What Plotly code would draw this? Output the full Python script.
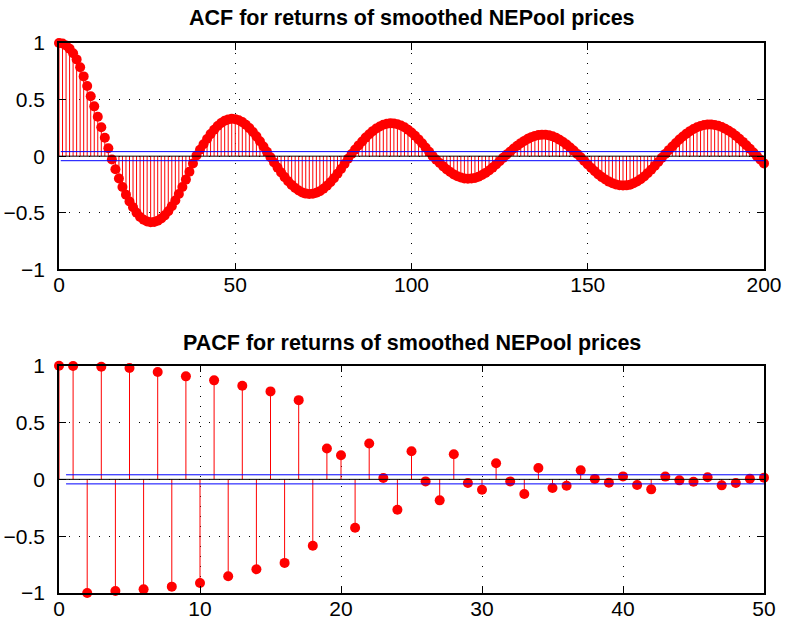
import plotly.graph_objects as go

# Sample autocorrelation of returns, lags 0..200
acf_lags = list(range(201))
acf_vals = [
    1.000, 0.995, 0.978, 0.950, 0.910, 0.855, 0.785, 0.705, 0.620, 0.530,
    0.440, 0.348, 0.255, 0.162, 0.070, -0.030, -0.115, -0.197, -0.272, -0.340,
    -0.400, -0.452, -0.500, -0.538, -0.562, -0.578, -0.584, -0.582, -0.571, -0.551,
    -0.523, -0.487, -0.443, -0.392, -0.335, -0.273, -0.207, -0.137, -0.065, 0.006,
    0.056, 0.105, 0.152, 0.195, 0.233, 0.266, 0.293, 0.313, 0.325, 0.330,
    0.327, 0.317, 0.301, 0.277, 0.248, 0.214, 0.175, 0.132, 0.086, 0.039,
    -0.009, -0.056, -0.101, -0.144, -0.185, -0.222, -0.254, -0.282, -0.304, -0.321,
    -0.331, -0.335, -0.332, -0.324, -0.309, -0.288, -0.261, -0.230, -0.195, -0.155,
    -0.113, -0.069, -0.023, 0.019, 0.058, 0.095, 0.130, 0.164, 0.194, 0.221,
    0.244, 0.262, 0.277, 0.286, 0.290, 0.289, 0.282, 0.271, 0.255, 0.234,
    0.209, 0.180, 0.148, 0.114, 0.077, 0.039, 0.000, -0.031, -0.061, -0.090,
    -0.117, -0.140, -0.161, -0.177, -0.189, -0.197, -0.200, -0.198, -0.192, -0.181,
    -0.166, -0.148, -0.126, -0.101, -0.074, -0.045, -0.015, 0.014, 0.041, 0.067,
    0.092, 0.115, 0.135, 0.153, 0.168, 0.179, 0.186, 0.190, 0.189, 0.184,
    0.175, 0.162, 0.145, 0.125, 0.102, 0.076, 0.049, 0.020, -0.010, -0.042,
    -0.074, -0.105, -0.134, -0.161, -0.185, -0.206, -0.225, -0.239, -0.250, -0.257,
    -0.260, -0.258, -0.252, -0.240, -0.224, -0.203, -0.179, -0.150, -0.119, -0.086,
    -0.051, -0.015, 0.020, 0.053, 0.086, 0.117, 0.147, 0.174, 0.199, 0.221,
    0.240, 0.256, 0.267, 0.275, 0.279, 0.280, 0.276, 0.268, 0.257, 0.242,
    0.225, 0.204, 0.180, 0.154, 0.126, 0.096, 0.065, 0.033, 0.000, -0.032,
    -0.064,
]

# Sample partial autocorrelation, lags 0..50
pacf_lags = list(range(51))
pacf_vals = [
    1.000, 0.997, -1.000, 0.991, -0.982, 0.979, -0.968, 0.944, -0.944, 0.906,
    -0.912, 0.871, -0.853, 0.824, -0.791, 0.774, -0.735, 0.697, -0.585, 0.271,
    0.212, -0.426, 0.315, 0.012, -0.268, 0.247, -0.018, -0.185, 0.221, -0.032,
    -0.091, 0.141, -0.018, -0.129, 0.100, -0.076, -0.056, 0.079, 0.004, -0.029,
    0.026, -0.050, -0.088, 0.024, -0.009, -0.021, 0.018, -0.053, -0.032, 0.006,
    0.015,
]

# Approximate 95% confidence bound
conf_bound = 0.04
conf_start = 0.5

acf_title = "ACF for returns of smoothed NEPool prices"
pacf_title = "PACF for returns of smoothed NEPool prices"
y_ticks = [-1, -0.5, 0, 0.5, 1]
acf_xticks = [0, 50, 100, 150, 200]
pacf_xticks = [0, 10, 20, 30, 40, 50]

FONT = "Liberation Sans, Arial, Helvetica, sans-serif"


def stem_traces(lags, vals, xa, ya):
    sx, sy = [], []
    for k, v in zip(lags, vals):
        sx += [k, k, None]
        sy += [0, v, None]
    common = dict(xaxis=xa, yaxis=ya, hoverinfo="skip", showlegend=False)
    return [
        go.Scatter(x=sx, y=sy, mode="lines",
                   line=dict(color="red", width=1), **common),
        go.Scatter(x=lags, y=vals, mode="markers", cliponaxis=False,
                   marker=dict(color="red", size=10, line=dict(width=0)),
                   **common),
        go.Scatter(x=[lags[0], lags[-1]], y=[0, 0], mode="lines",
                   line=dict(color="black", width=1), **common),
        go.Scatter(x=[conf_start, lags[-1]], y=[conf_bound, conf_bound],
                   mode="lines", line=dict(color="blue", width=1), **common),
        go.Scatter(x=[conf_start, lags[-1]], y=[-conf_bound, -conf_bound],
                   mode="lines", line=dict(color="blue", width=1), **common),
    ]


fig = go.Figure()
for t in stem_traces(acf_lags, acf_vals, "x", "y"):
    fig.add_trace(t)
for t in stem_traces(pacf_lags, pacf_vals, "x2", "y2"):
    fig.add_trace(t)

axis_style = dict(
    showline=True, linecolor="black", linewidth=1.5, mirror="ticks",
    ticks="inside", ticklen=7, tickwidth=1, tickcolor="black",
    showgrid=True, gridcolor="black", gridwidth=1, griddash="1px,9px",
    zeroline=False, automargin=False,
    tickfont=dict(family=FONT, size=21, color="black"),
)

fig.update_layout(
    template="none",
    width=785, height=626,
    margin=dict(l=59, r=21, t=43, b=33, pad=0),
    paper_bgcolor="white", plot_bgcolor="white",
    showlegend=False,
    xaxis=dict(domain=[0, 1], range=[0, 200], tickvals=acf_xticks,
               anchor="y", ticklabelstandoff=-4, **axis_style),
    yaxis=dict(domain=[0.5885, 1], range=[-1, 1], tickvals=y_ticks,
               anchor="x", ticklabelstandoff=8, **axis_style),
    xaxis2=dict(domain=[0, 1], range=[0, 50], tickvals=pacf_xticks,
                anchor="y2", ticklabelstandoff=-4, **axis_style),
    yaxis2=dict(domain=[0, 0.4133], range=[-1, 1], tickvals=y_ticks,
                anchor="x2", ticklabelstandoff=8, **axis_style),
    annotations=[
        dict(text="<b>" + acf_title + "</b>", x=0.5, y=1.045,
             xref="paper", yref="paper", xanchor="center", yanchor="middle",
             showarrow=False, font=dict(family=FONT, size=21.5, color="black")),
        dict(text="<b>" + pacf_title + "</b>", x=0.5, y=0.4545,
             xref="paper", yref="paper", xanchor="center", yanchor="middle",
             showarrow=False, font=dict(family=FONT, size=21.5, color="black")),
    ],
)

fig.write_html("out.html")
